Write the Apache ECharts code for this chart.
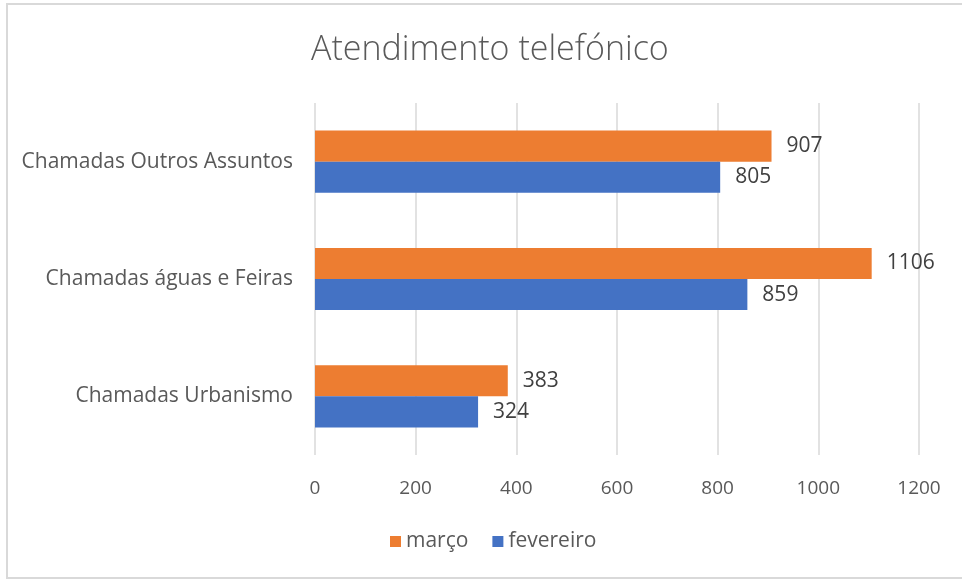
<!DOCTYPE html>
<html>
<head>
<meta charset="utf-8">
<script src="https://cdn.jsdelivr.net/npm/echarts@6/dist/echarts.min.js"></script>
<style>
html,body{margin:0;padding:0;background:#fff;}
#frame{position:absolute;left:6px;top:3px;width:970px;height:572px;border:2px solid #d9d9d9;border-right:none;}
#main{position:absolute;left:0;top:0;width:962px;height:579px;}
</style>
</head>
<body>
<div id="frame"></div>
<div id="main"></div>
<script>
// dados
var categorias = ["Chamadas Urbanismo", "Chamadas águas e Feiras", "Chamadas Outros Assuntos"];
var fevereiro = [324, 859, 805];
var marco = [383, 1106, 907];
var ticks = [0, 200, 400, 600, 800, 1000, 1200];

var fonte = "Open Sans";
var cinza = "#595959";

var myChart = echarts.init(document.getElementById("main"));

// rótulo de valor das barras
function rotulo(){
    return {
        show : true,
        position : "right",
        distance : 15,
        fontFamily : fonte,
        fontSize : 21,
        color : "#404040"
    };
}

var option = {
    backgroundColor : "transparent",

    title : {
        text : "Atendimento telefónico",
        left : 306,
        top : 28,
        textStyle : {
            fontFamily : fonte,
            fontWeight : 300,
            fontSize : 34,
            color : cinza
        }
    },

    legend : {
        data : ["março", "fevereiro"],
        bottom : 22,
        left : 385,
        itemWidth : 11,
        itemHeight : 11,
        itemGap : 24,
        icon : "rect",
        textStyle : {
            fontFamily : fonte,
            fontSize : 21,
            color : cinza
        }
    },

    grid : {
        left : 315,
        right : 43,
        top : 103,
        bottom : 124,
        containLabel : false
    },

    xAxis : {
        type : "value",
        min : ticks[0],
        max : ticks[ticks.length - 1],
        interval : 200,
        axisLine : {show : false},
        axisTick : {show : false},
        splitLine : {lineStyle : {color : "#d9d9d9", width : 1.5}},
        axisLabel : {
            margin : 24,
            fontFamily : fonte,
            fontSize : 19,
            color : cinza,
            formatter : function(v){ return String(v); }
        }
    },

    yAxis : {
        type : "category",
        data : categorias,
        axisLine : {show : false},
        axisTick : {show : false},
        axisLabel : {
            margin : 22,
            fontFamily : fonte,
            fontSize : 21,
            color : cinza
        }
    },

    series : [
        {
            name : "março",
            type : "bar",
            data : marco,
            barGap : "0%",
            barCategoryGap : "47%",
            itemStyle : {color : "#ED7D31"},
            label : rotulo()
        },
        {
            name : "fevereiro",
            type : "bar",
            data : fevereiro,
            barGap : "0%",
            barCategoryGap : "47%",
            itemStyle : {color : "#4472C4"},
            label : rotulo()
        }
    ]
};

myChart.setOption(option);
</script>
</body>
</html>
